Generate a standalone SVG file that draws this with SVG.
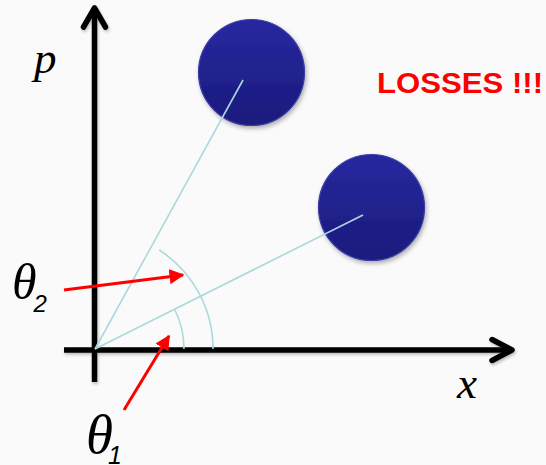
<svg xmlns="http://www.w3.org/2000/svg" width="546" height="465" viewBox="0 0 546 465">
<style>
.axis{stroke:#000;stroke-width:5.5;fill:none;stroke-linecap:butt}
.head{stroke:#000;stroke-width:5.5;fill:none;stroke-linecap:round;stroke-linejoin:round}
.ray{stroke:#abd9dd;stroke-width:1.6;fill:none}
.red{stroke:#ff0000;stroke-width:3;fill:none}
.ball{fill:url(#bg);stroke:#3b3ba6;stroke-width:1.2;filter:url(#sh)}
.sym{font-family:"Liberation Serif",serif;font-style:italic;fill:#000}
.sub{font-family:"Liberation Sans",Arial,sans-serif;font-style:italic;fill:#000}
</style>
<defs>
<linearGradient id="bg" x1="0" y1="0" x2="0" y2="1">
<stop offset="0" stop-color="#2828a0"/>
<stop offset="1" stop-color="#1a1a7c"/>
</linearGradient>
<filter id="sh" x="-20%" y="-20%" width="150%" height="150%">
<feDropShadow dx="1.5" dy="2.5" stdDeviation="2" flood-color="#000" flood-opacity="0.3"/>
</filter>
<filter id="ash" x="-10%" y="-10%" width="130%" height="130%">
<feDropShadow dx="1" dy="2" stdDeviation="1.5" flood-color="#000" flood-opacity="0.25"/>
</filter>
<marker id="rh" viewBox="0 0 10 10" refX="9" refY="5" markerWidth="5" markerHeight="5" markerUnits="strokeWidth" orient="auto">
<path d="M0,0 L10,5 L0,10 Z" fill="#ff0000"/>
</marker>
</defs>
<rect width="546" height="465" fill="#fafafa"/>
<g id="axes" filter="url(#ash)">
<line class="axis" x1="94.5" y1="9" x2="94.5" y2="382"/>
<path class="head" d="M83.5,27 L94.5,8 L105.5,27"/>
<line class="axis" x1="64" y1="350" x2="511" y2="350"/>
<path class="head" d="M492,339.5 L512,350 L492,360.5"/>
</g>
<g id="ball1"><circle class="ball" cx="251.5" cy="72.5" r="53"/></g>
<g id="ball2"><circle class="ball" cx="371.5" cy="207.5" r="53"/></g>
<g id="connectors">
<line class="ray" x1="95" y1="349" x2="243" y2="80"/>
<line class="ray" x1="95" y1="349" x2="363" y2="215"/>
<path class="ray" d="M184,349 A89,89 0 0 0 175,310"/>
<path class="ray" d="M213,349 A118,118 0 0 0 159.3,250"/>
<line class="red" x1="64" y1="290" x2="183" y2="275" marker-end="url(#rh)"/>
<line class="red" x1="124" y1="410" x2="169" y2="336" marker-end="url(#rh)"/>
</g>
<g id="labels">
<text class="sym" x="34" y="73" font-size="45">p</text>
<text class="sym" x="457" y="398" font-size="45">x</text>
<text class="sym" x="12" y="299" font-size="50">θ<tspan class="sub" font-size="24" dx="-3" dy="13">2</tspan></text>
<text class="sym" x="86" y="453" font-size="55">θ<tspan class="sub" font-size="25" dx="-5" dy="10.5">1</tspan></text>
<text x="377" y="93" font-family="Liberation Sans,Arial,sans-serif" font-weight="bold" font-size="29" fill="#ff0000" textLength="166" lengthAdjust="spacingAndGlyphs">LOSSES !!!</text>
</g>
</svg>
